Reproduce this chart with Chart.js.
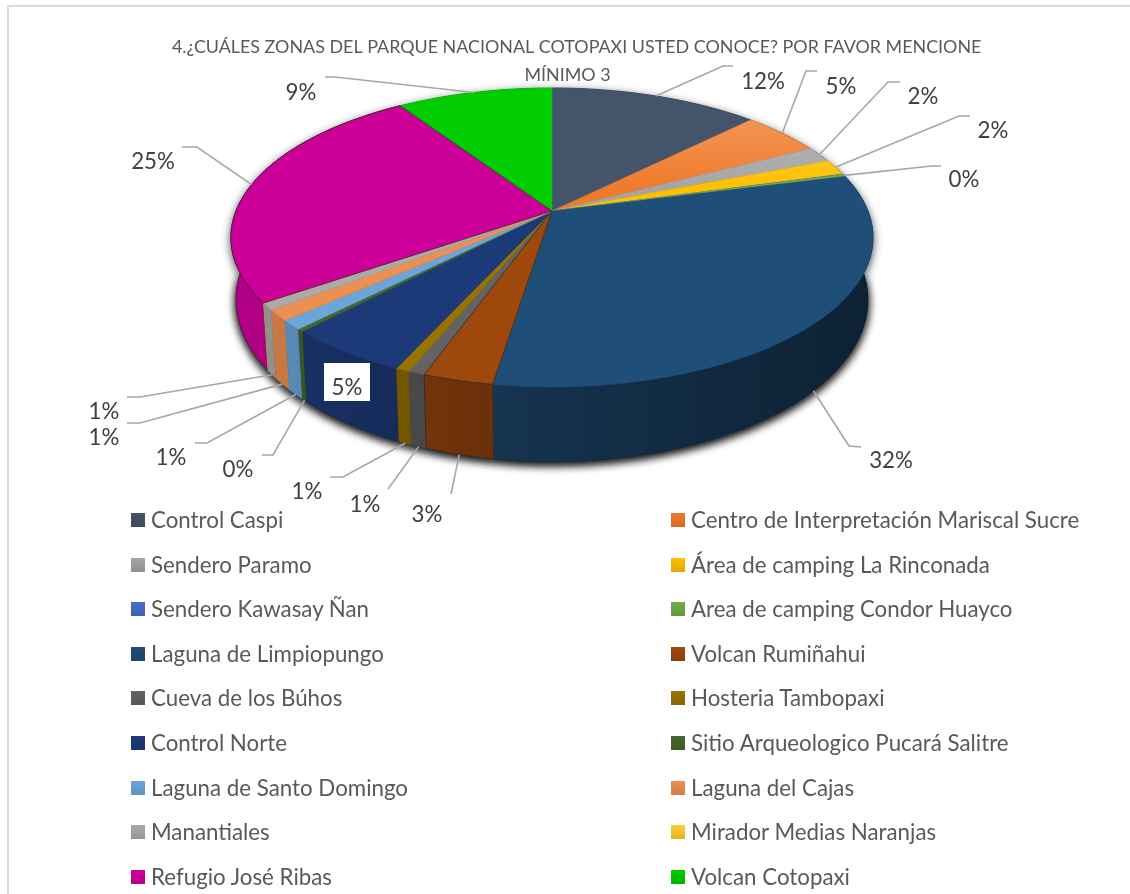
<!DOCTYPE html>
<html>
<head>
<meta charset="utf-8">
<title>Zonas del Parque Nacional Cotopaxi</title>
<script src="https://cdn.jsdelivr.net/npm/chart.js@4/dist/chart.umd.js"></script>
<style>
    html, body { margin: 0; padding: 0; background: #fff; overflow: hidden; }
    #wrap { position: relative; width: 1130px; height: 894px; }
    #frame { position: absolute; left: 7px; top: 5px; width: 1140px; height: 920px; border: 2px solid #d9d9d9; box-sizing: border-box; }
    canvas { position: absolute; left: 0; top: 0; }
    #legend { position: absolute; left: 0; top: 0; font-family: Lato, sans-serif; font-size: 22.3px; color: #595959; }
    .item { position: absolute; white-space: nowrap; line-height: 24px; height: 24px; }
    .swatch { position: absolute; left: -20px; top: 5px; width: 14px; height: 14px; }
</style>
</head>
<body>
<div id="wrap">
    <div id="frame"></div>
    <canvas id="pie" width="1130" height="894"></canvas>
    <div id="legend"></div>
</div>
<script>
// leading spaces: the first line sits a little right of the second in the original
const titleLines = ["    4.¿CUÁLES ZONAS DEL PARQUE NACIONAL COTOPAXI USTED CONOCE? POR FAVOR MENCIONE", "MÍNIMO 3"];

const zones = [
    "Control Caspi", "Centro de Interpretación Mariscal Sucre", "Sendero Paramo", "Área de camping La Rinconada",
    "Sendero Kawasay Ñan", "Area de camping Condor Huayco", "Laguna de Limpiopungo", "Volcan Rumiñahui",
    "Cueva de los Búhos", "Hosteria Tambopaxi", "Control Norte", "Sitio Arqueologico Pucará Salitre",
    "Laguna de Santo Domingo", "Laguna del Cajas", "Manantiales", "Mirador Medias Naranjas",
    "Refugio José Ribas", "Volcan Cotopaxi"
];

const shares = [12.5, 4.8, 1.7, 1.7, 0.05, 0.25, 31.5, 3.0, 0.7, 0.6, 5.3, 0.3, 1.0, 1.2, 0.7, 0.05, 25.4, 9.3];

// printed labels, null where the original has none
const shareLabels = ["12%", "5%", "2%", "2%", null, "0%", "32%", "3%", "1%", "1%", "5%", "0%", "1%", "1%", "1%", null, "25%", "9%"];

const sliceColors = [
    "#44546a", "#f07a2a", "#a5a5a5", "#ffc000", "#4472c4", "#70ad47", "#1f4e79", "#9e480e", "#636363",
    "#997300", "#1d3a78", "#43682b", "#6ba5d9", "#ec8f52", "#aaaaaa", "#ffcd33", "#cc0099", "#00cc00"
];

// slices that have a dark outline in the original
const outlined = ["Volcan Rumiñahui", "Refugio José Ribas"];

// slices whose top face gets lighter towards the rim
const sheened = ["Centro de Interpretación Mariscal Sucre", "Sendero Paramo", "Área de camping La Rinconada"];

// where each printed label sits: text centre, leader elbow, leader end
const labelPlaces = [
    { text: [763, 82], elbow: [723, 66], end: [733, 66] },
    { text: [841, 87], elbow: [806, 71], end: [817, 71] },
    { text: [923, 97], elbow: [888, 82], end: [900, 82] },
    { text: [993, 131], elbow: [959, 116], end: [970, 116] },
    null,
    { text: [964, 180], elbow: [932, 166], end: [941, 166] },
    { text: [891, 461], elbow: [849, 446], end: [861, 447] },
    { text: [427, 515], elbow: [451, 494], end: [451, 494] },
    { text: [365, 505], elbow: [388, 489], end: [388, 489] },
    { text: [307, 492], elbow: [343, 477], end: [330, 477] },
    { text: [347, 388], box: [324, 363, 46, 38] },
    { text: [238, 470], elbow: [273, 455], end: [262, 455] },
    { text: [171, 458], elbow: [207, 443], end: [195, 443] },
    { text: [104, 438], elbow: [140, 423], end: [127, 423] },
    { text: [104, 412], elbow: [140, 397], end: [127, 397] },
    null,
    { text: [153, 162], elbow: [197, 147], end: [182, 147] },
    { text: [301, 93], elbow: [335, 77], end: [325, 77] }
];

// perspective of the tilted disc: circle angle -> screen
const disc = { cx: 552, top: { y: 211, a: 316, b: 144.8 }, bottom: { y: 271, a: 311, b: 157 }, k: 0.177 };

function project(angle, face) {
    const u = Math.cos(angle), v = Math.sin(angle);
    const w = 1 - disc.k * v;
    return [disc.cx + face.a * u / w, face.y + face.b * v / w];
}

function rimPoints(start, end, face) {
    const steps = Math.max(2, Math.ceil((end - start) / (Math.PI / 180)));
    const pts = [];
    for (let i = 0; i <= steps; i++) pts.push(project(start + (end - start) * i / steps, face));
    return pts;
}

function shade(hex, f) {
    const n = parseInt(hex.slice(1), 16);
    return `rgb(${Math.round((n >> 16) * f)}, ${Math.round(((n >> 8) & 255) * f)}, ${Math.round((n & 255) * f)})`;
}

function wallPath(ctx, arc) {
    const pts = rimPoints(arc.startAngle, arc.endAngle, disc.top)
        .concat(rimPoints(arc.startAngle, arc.endAngle, disc.bottom).reverse());
    ctx.beginPath();
    pts.forEach((p, i) => i ? ctx.lineTo(p[0], p[1]) : ctx.moveTo(p[0], p[1]));
    ctx.closePath();
}

function facePath(ctx, arc) {
    ctx.beginPath();
    ctx.moveTo(disc.cx, disc.top.y);
    rimPoints(arc.startAngle, arc.endAngle, disc.top).forEach(p => ctx.lineTo(p[0], p[1]));
    ctx.closePath();
}

// draws the pie elements through the projection, using the angles the library worked out
const tiltedPie = {
    id: "tiltedPie",
    beforeDatasetsDraw(chart) {
        const ctx = chart.ctx;
        const arcs = chart.getDatasetMeta(0).data;
        const order = arcs.map((a, i) => i).sort((p, q) =>
            Math.sin((arcs[p].startAngle + arcs[p].endAngle) / 2) - Math.sin((arcs[q].startAngle + arcs[q].endAngle) / 2));

        // soft shadow under the walls
        ctx.save();
        ctx.shadowColor = "rgba(0, 0, 0, 0.8)";
        ctx.shadowBlur = 10;
        ctx.shadowOffsetY = 3;
        ctx.fillStyle = "#222";
        ctx.beginPath();
        rimPoints(0, Math.PI * 2, disc.bottom).forEach((p, i) => i ? ctx.lineTo(p[0], p[1]) : ctx.moveTo(p[0], p[1]));
        ctx.fill();
        arcs.forEach(arc => { wallPath(ctx, arc); ctx.fill(); });
        ctx.restore();

        order.forEach(i => {
            const g = ctx.createLinearGradient(231, 0, 873, 0);
            g.addColorStop(0, shade(sliceColors[i], 0.88));
            g.addColorStop(0.47, shade(sliceColors[i], 0.64));
            g.addColorStop(1, shade(sliceColors[i], 0.42));
            wallPath(ctx, arcs[i]);
            ctx.fillStyle = g;
            ctx.fill();
            ctx.lineWidth = 0.5;
            ctx.strokeStyle = g;
            ctx.stroke();
            if (outlined.includes(zones[i])) {
                ctx.lineWidth = 0.7;
                ctx.strokeStyle = "#2a2a2a";
                ctx.stroke();
            }
        });

        arcs.forEach((arc, i) => {
            facePath(ctx, arc);
            ctx.fillStyle = sliceColors[i];
            ctx.fill();
            ctx.lineWidth = 0.5;
            ctx.strokeStyle = sliceColors[i];
            ctx.stroke();
            if (sheened.includes(zones[i])) {
                const g = ctx.createLinearGradient(0, 120, 0, 190);
                g.addColorStop(0, "rgba(255, 255, 255, 0.2)");
                g.addColorStop(1, "rgba(255, 255, 255, 0)");
                facePath(ctx, arc);
                ctx.fillStyle = g;
                ctx.fill();
            }
        });
        arcs.forEach((arc, i) => {
            if (outlined.includes(zones[i])) {
                facePath(ctx, arc);
                ctx.lineWidth = 0.7;
                ctx.strokeStyle = "#2a2a2a";
                ctx.stroke();
            }
        });
        return false;
    },
    afterDraw(chart) {
        const ctx = chart.ctx;
        const arcs = chart.getDatasetMeta(0).data;
        ctx.save();
        ctx.font = "22.3px Lato, sans-serif";
        ctx.textAlign = "center";
        ctx.textBaseline = "middle";
        arcs.forEach((arc, i) => {
            const place = labelPlaces[i];
            if (!place || !shareLabels[i]) return;
            if (place.box) {
                ctx.fillStyle = "#fff";
                ctx.fillRect(place.box[0], place.box[1], place.box[2], place.box[3]);
            } else {
                const mid = (arc.startAngle + arc.endAngle) / 2;
                const from = project(mid, Math.sin(mid) > 0 ? disc.bottom : disc.top);
                ctx.beginPath();
                ctx.moveTo(from[0], from[1]);
                ctx.lineTo(place.elbow[0], place.elbow[1]);
                ctx.lineTo(place.end[0], place.end[1]);
                ctx.lineWidth = 1.6;
                ctx.strokeStyle = "#a6a6a6";
                ctx.stroke();
            }
            ctx.fillStyle = "#404040";
            ctx.fillText(shareLabels[i], place.text[0], place.text[1]);
        });
        ctx.restore();
    }
};

new Chart(document.getElementById("pie"), {
    type: "pie",
    data: {
        labels: zones,
        datasets: [{ data: shares, backgroundColor: sliceColors, borderWidth: 0 }]
    },
    options: {
        responsive: false,
        animation: false,
        events: [],
        layout: { padding: { left: 5 } },
        plugins: {
            legend: { display: false },
            tooltip: { enabled: false },
            title: {
                display: true,
                text: titleLines,
                color: "#595959",
                font: { family: "Lato, sans-serif", size: 17.9, weight: "normal", lineHeight: 28 / 17.9 },
                padding: { top: 33, bottom: 0 }
            }
        }
    },
    plugins: [tiltedPie]
});

// two column legend, same order as the slices
const legendBox = document.getElementById("legend");
zones.forEach((name, i) => {
    const row = Math.floor(i / 2);
    const item = document.createElement("div");
    item.className = "item";
    item.style.left = (i % 2 ? 691 : 151) + "px";
    item.style.top = (508 + row * 44.6) + "px";
    item.textContent = name;
    const swatch = document.createElement("span");
    swatch.className = "swatch";
    swatch.style.background = `linear-gradient(${shade(sliceColors[i], 1.0)}, ${shade(sliceColors[i], 0.88)})`;
    item.appendChild(swatch);
    legendBox.appendChild(item);
});
</script>
</body>
</html>
